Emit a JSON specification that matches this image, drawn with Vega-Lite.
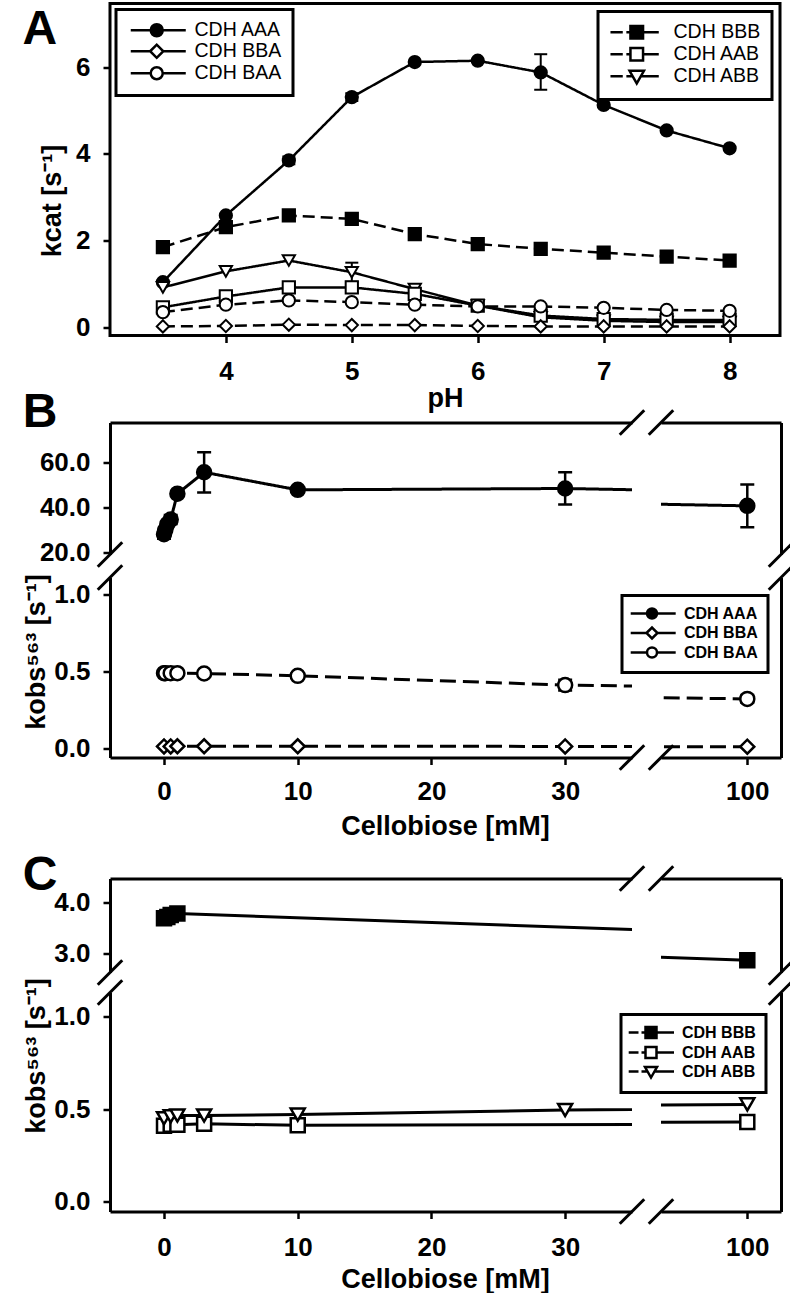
{
  "$schema": "https://vega.github.io/schema/vega-lite/v6.json",
  "padding": {"left": 21, "top": 1.5, "right": 0, "bottom": 0},
  "background": "white",
  "spacing": -25,
  "resolve": {"scale": {"x": "independent", "y": "independent", "shape": "independent", "fill": "independent", "stroke": "independent", "strokeDash": "independent"}, "legend": {"shape": "independent", "fill": "independent", "stroke": "independent", "strokeDash": "independent"}},
  "config": {
    "font": "Liberation Sans",
    "view": {"stroke": null},
    "axis": {"grid": false, "domainColor": "black", "domainWidth": 3, "tickColor": "black", "tickWidth": 2.5, "tickSize": 7, "labelFont": "Liberation Sans", "labelFontSize": 26, "labelFontWeight": "bold", "labelColor": "black", "labelPadding": 13, "labelFlush": false, "labelOverlap": false, "titleFont": "Liberation Sans", "titleFontSize": 27, "titleFontWeight": "bold", "titleColor": "black"},
    "legend": {"labelColor": "black", "labelFont": "Liberation Sans", "strokeColor": "black", "strokeWidth": 3, "fillColor": "white", "symbolStrokeWidth": 2.5, "rowPadding": 2, "labelLimit": 300},
    "title": {"font": "Liberation Sans", "fontSize": 48, "fontWeight": "bold", "anchor": "start", "frame": "bounds", "color": "black"}
  },
  "datasets": {
    "dA": [
      {"s": "CDH AAA", "pH": 3.5, "k": 1.04}, {"s": "CDH AAA", "pH": 4, "k": 2.58}, {"s": "CDH AAA", "pH": 4.5, "k": 3.85, "lo": 3.76, "hi": 3.94}, {"s": "CDH AAA", "pH": 5, "k": 5.31, "lo": 5.22, "hi": 5.4}, {"s": "CDH AAA", "pH": 5.5, "k": 6.12}, {"s": "CDH AAA", "pH": 6, "k": 6.15}, {"s": "CDH AAA", "pH": 6.5, "k": 5.88, "lo": 5.48, "hi": 6.3}, {"s": "CDH AAA", "pH": 7, "k": 5.13}, {"s": "CDH AAA", "pH": 7.5, "k": 4.54}, {"s": "CDH AAA", "pH": 8, "k": 4.13},
      {"s": "CDH BBB", "pH": 3.5, "k": 1.85}, {"s": "CDH BBB", "pH": 4, "k": 2.31}, {"s": "CDH BBB", "pH": 4.5, "k": 2.58}, {"s": "CDH BBB", "pH": 5, "k": 2.5}, {"s": "CDH BBB", "pH": 5.5, "k": 2.15}, {"s": "CDH BBB", "pH": 6, "k": 1.92}, {"s": "CDH BBB", "pH": 6.5, "k": 1.81}, {"s": "CDH BBB", "pH": 7, "k": 1.72}, {"s": "CDH BBB", "pH": 7.5, "k": 1.63}, {"s": "CDH BBB", "pH": 8, "k": 1.54},
      {"s": "CDH ABB", "pH": 3.5, "k": 0.92}, {"s": "CDH ABB", "pH": 4, "k": 1.29}, {"s": "CDH ABB", "pH": 4.5, "k": 1.54}, {"s": "CDH ABB", "pH": 5, "k": 1.27, "lo": 1.05, "hi": 1.49}, {"s": "CDH ABB", "pH": 5.5, "k": 0.88}, {"s": "CDH ABB", "pH": 6, "k": 0.5}, {"s": "CDH ABB", "pH": 6.5, "k": 0.23}, {"s": "CDH ABB", "pH": 7, "k": 0.15}, {"s": "CDH ABB", "pH": 7.5, "k": 0.12}, {"s": "CDH ABB", "pH": 8, "k": 0.12},
      {"s": "CDH AAB", "pH": 3.5, "k": 0.46}, {"s": "CDH AAB", "pH": 4, "k": 0.71}, {"s": "CDH AAB", "pH": 4.5, "k": 0.92}, {"s": "CDH AAB", "pH": 5, "k": 0.92}, {"s": "CDH AAB", "pH": 5.5, "k": 0.77}, {"s": "CDH AAB", "pH": 6, "k": 0.5}, {"s": "CDH AAB", "pH": 6.5, "k": 0.27}, {"s": "CDH AAB", "pH": 7, "k": 0.19}, {"s": "CDH AAB", "pH": 7.5, "k": 0.17}, {"s": "CDH AAB", "pH": 8, "k": 0.17},
      {"s": "CDH BAA", "pH": 3.5, "k": 0.35}, {"s": "CDH BAA", "pH": 4, "k": 0.52}, {"s": "CDH BAA", "pH": 4.5, "k": 0.62}, {"s": "CDH BAA", "pH": 5, "k": 0.58}, {"s": "CDH BAA", "pH": 5.5, "k": 0.52}, {"s": "CDH BAA", "pH": 6, "k": 0.48}, {"s": "CDH BAA", "pH": 6.5, "k": 0.48}, {"s": "CDH BAA", "pH": 7, "k": 0.45}, {"s": "CDH BAA", "pH": 7.5, "k": 0.4}, {"s": "CDH BAA", "pH": 8, "k": 0.38},
      {"s": "CDH BBA", "pH": 3.5, "k": 0.02}, {"s": "CDH BBA", "pH": 4, "k": 0.03}, {"s": "CDH BBA", "pH": 4.5, "k": 0.06}, {"s": "CDH BBA", "pH": 5, "k": 0.05}, {"s": "CDH BBA", "pH": 5.5, "k": 0.05}, {"s": "CDH BBA", "pH": 6, "k": 0.03}, {"s": "CDH BBA", "pH": 6.5, "k": 0.02}, {"s": "CDH BBA", "pH": 7, "k": 0.02}, {"s": "CDH BBA", "pH": 7.5, "k": 0.02}, {"s": "CDH BBA", "pH": 8, "k": 0.02}
    ],
    "dB": [
      {"s": "CDH AAA", "c": 0, "k": 28, "lo": 26, "hi": 30}, {"s": "CDH AAA", "c": 0.1, "k": 30}, {"s": "CDH AAA", "c": 0.25, "k": 32.5}, {"s": "CDH AAA", "c": 0.5, "k": 34.5, "lo": 32.5, "hi": 36.5}, {"s": "CDH AAA", "c": 1, "k": 46}, {"s": "CDH AAA", "c": 3, "k": 55.5, "lo": 46.5, "hi": 64.4}, {"s": "CDH AAA", "c": 10, "k": 47.7, "lo": 46.7, "hi": 48.7}, {"s": "CDH AAA", "c": 30, "k": 48.3, "lo": 41.2, "hi": 55.5}, {"s": "CDH AAA", "c": 100, "k": 40.6, "lo": 31.1, "hi": 50.1},
      {"s": "CDH BBA", "c": 0, "k": 0.012}, {"s": "CDH BBA", "c": 0.5, "k": 0.012}, {"s": "CDH BBA", "c": 1, "k": 0.013}, {"s": "CDH BBA", "c": 3, "k": 0.013}, {"s": "CDH BBA", "c": 10, "k": 0.013}, {"s": "CDH BBA", "c": 30, "k": 0.012}, {"s": "CDH BBA", "c": 100, "k": 0.01},
      {"s": "CDH BAA", "c": 0, "k": 0.487}, {"s": "CDH BAA", "c": 0.1, "k": 0.487}, {"s": "CDH BAA", "c": 0.5, "k": 0.487}, {"s": "CDH BAA", "c": 1, "k": 0.487}, {"s": "CDH BAA", "c": 3, "k": 0.485}, {"s": "CDH BAA", "c": 10, "k": 0.47, "lo": 0.455, "hi": 0.485}, {"s": "CDH BAA", "c": 30, "k": 0.41, "lo": 0.375, "hi": 0.445}, {"s": "CDH BAA", "c": 100, "k": 0.32, "lo": 0.295, "hi": 0.345}
    ],
    "dC": [
      {"s": "CDH BBB", "c": 0, "k": 3.7}, {"s": "CDH BBB", "c": 0.25, "k": 3.72}, {"s": "CDH BBB", "c": 0.5, "k": 3.76}, {"s": "CDH BBB", "c": 1, "k": 3.79}, {"s": "CDH BBB", "c": 100, "k": 2.87},
      {"s": "CDH AAB", "c": 0, "k": 0.41}, {"s": "CDH AAB", "c": 0.5, "k": 0.415}, {"s": "CDH AAB", "c": 1, "k": 0.415}, {"s": "CDH AAB", "c": 3, "k": 0.42}, {"s": "CDH AAB", "c": 10, "k": 0.412}, {"s": "CDH AAB", "c": 100, "k": 0.43},
      {"s": "CDH ABB", "c": 0, "k": 0.45}, {"s": "CDH ABB", "c": 0.5, "k": 0.46}, {"s": "CDH ABB", "c": 1, "k": 0.465}, {"s": "CDH ABB", "c": 3, "k": 0.465}, {"s": "CDH ABB", "c": 10, "k": 0.47}, {"s": "CDH ABB", "c": 30, "k": 0.495}, {"s": "CDH ABB", "c": 100, "k": 0.525}
    ],
    "brk": [
      {"p": "Btl", "x": 35, "y": 77.6}, {"p": "Btl", "x": -4.04, "y": 19},
      {"p": "Btr", "x": 93.6, "y": 77.6}, {"p": "Btr", "x": 102.5, "y": 19},
      {"p": "Bbl", "x": -4.04, "y": 1.108}, {"p": "Bbl", "x": 35, "y": -0.06},
      {"p": "Bbr", "x": 102.5, "y": 1.108}, {"p": "Bbr", "x": 93.6, "y": -0.06},
      {"p": "Ctl", "x": 35, "y": 4.48}, {"p": "Ctl", "x": -4.04, "y": 2.63},
      {"p": "Ctr", "x": 93.6, "y": 4.48}, {"p": "Ctr", "x": 102.5, "y": 2.63},
      {"p": "Cbl", "x": -4.04, "y": 1.13}, {"p": "Cbl", "x": 35, "y": -0.054},
      {"p": "Cbr", "x": 102.5, "y": 1.13}, {"p": "Cbr", "x": 93.6, "y": -0.054}
    ]
  },
  "vconcat": [
    {
      "width": 670, "height": 332,
      "title": {"text": "A", "offset": -50, "dx": -16},
      "view": {"stroke": "black", "strokeWidth": 3},
      "data": {"name": "dA"},
      "resolve": {"scale": {"shape": "independent", "fill": "independent", "stroke": "independent"}, "legend": {"shape": "independent", "fill": "independent", "stroke": "independent"}},
      "layer": [
        {"mark": {"type": "line", "strokeWidth": 2.5, "color": "black"},
         "encoding": {
           "x": {"field": "pH", "type": "quantitative", "scale": {"domain": [3.08, 8.4], "nice": false, "zero": false}, "axis": {"values": [4, 5, 6, 7, 8], "format": "d", "title": "pH", "titlePadding": 1, "labelPadding": 16, "domain": false}},
           "y": {"field": "k", "type": "quantitative", "scale": {"domain": [-0.19, 7.47], "nice": false, "zero": false}, "axis": {"values": [0, 2, 4, 6], "format": "d", "title": "kcat [s⁻¹]", "titlePadding": 9, "titleY": 197, "domain": false}},
           "strokeDash": {"field": "s", "type": "nominal", "scale": {"domain": ["CDH AAA", "CDH BBB", "CDH ABB", "CDH AAB", "CDH BAA", "CDH BBA"], "range": [[1, 0], [12, 6], [1, 0], [1, 0], [12, 6], [12, 6]]}, "legend": null}
         }},
        {"transform": [{"filter": "isValid(datum.lo)"}], "mark": {"type": "rule", "strokeWidth": 2, "color": "black"},
         "encoding": {"x": {"field": "pH", "type": "quantitative"}, "y": {"field": "lo", "type": "quantitative"}, "y2": {"field": "hi"}}},
        {"transform": [{"filter": "isValid(datum.lo)"}], "mark": {"type": "point", "shape": "stroke", "size": 169, "strokeWidth": 2, "color": "black", "opacity": 1},
         "encoding": {"x": {"field": "pH", "type": "quantitative"}, "y": {"field": "lo", "type": "quantitative"}}},
        {"transform": [{"filter": "isValid(datum.lo)"}], "mark": {"type": "point", "shape": "stroke", "size": 169, "strokeWidth": 2, "color": "black", "opacity": 1},
         "encoding": {"x": {"field": "pH", "type": "quantitative"}, "y": {"field": "hi", "type": "quantitative"}}},
        {"mark": {"type": "point", "filled": true, "size": 150, "stroke": "black", "strokeWidth": 2, "opacity": 1},
         "encoding": {
           "x": {"field": "pH", "type": "quantitative"},
           "y": {"field": "k", "type": "quantitative"},
           "shape": {"field": "s", "type": "nominal", "scale": {"domain": ["CDH AAA", "CDH BBB", "CDH ABB", "CDH AAB", "CDH BAA", "CDH BBA"], "range": ["circle", "square", "triangle-down", "square", "circle", "diamond"]}, "legend": null},
           "fill": {"field": "s", "type": "nominal", "scale": {"domain": ["CDH AAA", "CDH BBB", "CDH ABB", "CDH AAB", "CDH BAA", "CDH BBA"], "range": ["black", "black", "white", "white", "white", "white"]}, "legend": null}
         }},
        {"transform": [{"filter": "false"}], "mark": {"type": "point", "filled": true, "strokeWidth": 2.5, "opacity": 1},
         "encoding": {
           "x": {"field": "pH", "type": "quantitative"},
           "y": {"field": "k", "type": "quantitative"},
           "shape": {"field": "s", "type": "nominal", "scale": {"domain": ["CDH AAA", "CDH BBA", "CDH BAA"], "range": ["M-1,0L2.33,0M4.33,0L8.17,0M2.33,0A1,1,0,1,1,4.33,0A1,1,0,1,1,2.33,0Z", "M-1,0L2.23,0M4.43,0L8.17,0M2.23,0L3.33,-1.1L4.43,0L3.33,1.1Z", "M-1,0L2.33,0M4.33,0L8.17,0M2.33,0A1,1,0,1,1,4.33,0A1,1,0,1,1,2.33,0Z"]},
             "legend": {"orient": "top-left", "offset": 6, "title": null, "symbolSize": 144, "symbolStrokeWidth": 2.5, "labelFontSize": 19.5, "labelOffset": 48, "padding": 11, "rowPadding": -2}},
           "fill": {"field": "s", "type": "nominal", "scale": {"domain": ["CDH AAA", "CDH BBA", "CDH BAA"], "range": ["black", "white", "white"]},
             "legend": {"orient": "top-left", "offset": 6, "title": null, "symbolSize": 144, "symbolStrokeWidth": 2.5, "labelFontSize": 19.5, "labelOffset": 48, "padding": 11, "rowPadding": -2}},
           "stroke": {"field": "s", "type": "nominal", "scale": {"domain": ["CDH AAA", "CDH BBA", "CDH BAA"], "range": ["black", "black", "black"]},
             "legend": {"orient": "top-left", "offset": 6, "title": null, "symbolSize": 144, "symbolStrokeWidth": 2.5, "labelFontSize": 19.5, "labelOffset": 48, "padding": 11, "rowPadding": -2}}
         }},
        {"transform": [{"filter": "false"}], "mark": {"type": "point", "filled": true, "strokeWidth": 2.5, "opacity": 1},
         "encoding": {
           "x": {"field": "pH", "type": "quantitative"},
           "y": {"field": "k", "type": "quantitative"},
           "shape": {"field": "s", "type": "nominal", "scale": {"domain": ["CDH BBB", "CDH AAB", "CDH ABB"], "range": ["M-1.38,0L0.67,0M1.27,0L1.95,0M4.05,0L6.67,0M1.95,-1.05L4.05,-1.05L4.05,1.05L1.95,1.05Z", "M-1.38,0L0.67,0M1.27,0L1.95,0M4.05,0L6.67,0M1.95,-1.05L4.05,-1.05L4.05,1.05L1.95,1.05Z", "M-1.38,0L0.67,0M1.27,0L2.31,0M3.69,0L6.67,0M1.8,-0.9L4.2,-0.9L3,1.2Z"]},
             "legend": {"orient": "top-right", "offset": 8, "title": null, "symbolSize": 144, "symbolStrokeWidth": 2.5, "labelFontSize": 19.5, "labelOffset": 45, "padding": 11, "rowPadding": -2}},
           "fill": {"field": "s", "type": "nominal", "scale": {"domain": ["CDH BBB", "CDH AAB", "CDH ABB"], "range": ["black", "white", "white"]},
             "legend": {"orient": "top-right", "offset": 8, "title": null, "symbolSize": 144, "symbolStrokeWidth": 2.5, "labelFontSize": 19.5, "labelOffset": 45, "padding": 11, "rowPadding": -2}},
           "stroke": {"field": "s", "type": "nominal", "scale": {"domain": ["CDH BBB", "CDH AAB", "CDH ABB"], "range": ["black", "black", "black"]},
             "legend": {"orient": "top-right", "offset": 8, "title": null, "symbolSize": 144, "symbolStrokeWidth": 2.5, "labelFontSize": 19.5, "labelOffset": 45, "padding": 11, "rowPadding": -2}}
         }}
      ]
    },
    {
      "spacing": 12,
      "resolve": {"scale": {"x": "independent", "y": "independent", "shape": "independent", "fill": "independent", "stroke": "independent", "strokeDash": "independent"}, "legend": {"shape": "independent", "fill": "independent", "stroke": "independent", "strokeDash": "independent"}},
      "vconcat": [
        {
          "title": {"text": "B", "offset": -33},
          "spacing": -15,
          "resolve": {"scale": {"x": "independent", "y": "independent", "shape": "independent", "fill": "independent", "stroke": "independent", "strokeDash": "independent"}, "legend": {"shape": "independent", "fill": "independent", "stroke": "independent", "strokeDash": "independent"}},
          "vconcat": [
            {"bounds": "flush", "spacing": 29,
             "resolve": {"scale": {"x": "independent", "y": "independent", "shape": "independent", "fill": "independent", "stroke": "independent", "strokeDash": "independent"}, "legend": {"shape": "independent", "fill": "independent", "stroke": "independent", "strokeDash": "independent"}},
             "hconcat": [
              {"width": 522, "height": 132, "data": {"name": "dB"}, "layer": [
                {"mark": {"type": "line", "clip": true, "strokeWidth": 3, "color": "black"},
                 "encoding": {
                   "x": {"field": "c", "type": "quantitative", "scale": {"domain": [-4.04, 35], "nice": false, "zero": false}, "axis": {"orient": "top", "labels": false, "ticks": false, "title": null}},
                   "y": {"field": "k", "type": "quantitative", "scale": {"domain": [19, 77.6], "nice": false, "zero": false}, "axis": {"values": [20, 40, 60], "format": ".1f", "title": null}},
                   "strokeDash": {"field": "s", "type": "nominal", "scale": {"domain": ["CDH AAA", "CDH BBA", "CDH BAA"], "range": [[1, 0], [16, 7], [16, 7]]}, "legend": null}}},
                {"transform": [{"filter": "isValid(datum.lo)"}], "mark": {"type": "rule", "clip": true, "strokeWidth": 2.5, "color": "black"}, "encoding": {"x": {"field": "c", "type": "quantitative"}, "y": {"field": "lo", "type": "quantitative"}, "y2": {"field": "hi"}}},
                {"transform": [{"filter": "isValid(datum.lo)"}], "mark": {"type": "point", "shape": "stroke", "size": 196, "strokeWidth": 2.5, "color": "black", "clip": true, "opacity": 1}, "encoding": {"x": {"field": "c", "type": "quantitative"}, "y": {"field": "lo", "type": "quantitative"}}},
                {"transform": [{"filter": "isValid(datum.lo)"}], "mark": {"type": "point", "shape": "stroke", "size": 196, "strokeWidth": 2.5, "color": "black", "clip": true, "opacity": 1}, "encoding": {"x": {"field": "c", "type": "quantitative"}, "y": {"field": "hi", "type": "quantitative"}}},
                {"mark": {"type": "point", "filled": true, "size": 196, "stroke": "black", "strokeWidth": 2.5, "clip": true, "opacity": 1},
                 "encoding": {"x": {"field": "c", "type": "quantitative"}, "y": {"field": "k", "type": "quantitative"},
                   "shape": {"field": "s", "type": "nominal", "scale": {"domain": ["CDH AAA", "CDH BBA", "CDH BAA"], "range": ["circle", "diamond", "circle"]}, "legend": null},
                   "fill": {"field": "s", "type": "nominal", "scale": {"domain": ["CDH AAA", "CDH BBA", "CDH BAA"], "range": ["black", "white", "white"]}, "legend": null}}},
                {"data": {"name": "brk"}, "transform": [{"filter": "datum.p === 'Btl'"}], "mark": {"type": "point", "shape": "M-1,1L1,-1", "size": 600, "stroke": "black", "strokeWidth": 3, "filled": false, "clip": false, "opacity": 1},
                 "encoding": {"x": {"field": "x", "type": "quantitative"}, "y": {"field": "y", "type": "quantitative"}}}
              ]},
              {"width": 120, "height": 132, "data": {"name": "dB"}, "layer": [
                {"mark": {"type": "line", "clip": true, "strokeWidth": 3, "color": "black"},
                 "encoding": {
                   "x": {"field": "c", "type": "quantitative", "scale": {"domain": [93.6, 102.5], "nice": false, "zero": false}, "axis": {"orient": "top", "labels": false, "ticks": false, "title": null}},
                   "y": {"field": "k", "type": "quantitative", "scale": {"domain": [19, 77.6], "nice": false, "zero": false}, "axis": {"orient": "right", "labels": false, "ticks": false, "title": null}},
                   "strokeDash": {"field": "s", "type": "nominal", "scale": {"domain": ["CDH AAA", "CDH BBA", "CDH BAA"], "range": [[1, 0], [16, 7], [16, 7]]}, "legend": null}}},
                {"transform": [{"filter": "isValid(datum.lo)"}], "mark": {"type": "rule", "clip": true, "strokeWidth": 2.5, "color": "black"}, "encoding": {"x": {"field": "c", "type": "quantitative"}, "y": {"field": "lo", "type": "quantitative"}, "y2": {"field": "hi"}}},
                {"transform": [{"filter": "isValid(datum.lo)"}], "mark": {"type": "point", "shape": "stroke", "size": 196, "strokeWidth": 2.5, "color": "black", "clip": true, "opacity": 1}, "encoding": {"x": {"field": "c", "type": "quantitative"}, "y": {"field": "lo", "type": "quantitative"}}},
                {"transform": [{"filter": "isValid(datum.lo)"}], "mark": {"type": "point", "shape": "stroke", "size": 196, "strokeWidth": 2.5, "color": "black", "clip": true, "opacity": 1}, "encoding": {"x": {"field": "c", "type": "quantitative"}, "y": {"field": "hi", "type": "quantitative"}}},
                {"mark": {"type": "point", "filled": true, "size": 196, "stroke": "black", "strokeWidth": 2.5, "clip": true, "opacity": 1},
                 "encoding": {"x": {"field": "c", "type": "quantitative"}, "y": {"field": "k", "type": "quantitative"},
                   "shape": {"field": "s", "type": "nominal", "scale": {"domain": ["CDH AAA", "CDH BBA", "CDH BAA"], "range": ["circle", "diamond", "circle"]}, "legend": null},
                   "fill": {"field": "s", "type": "nominal", "scale": {"domain": ["CDH AAA", "CDH BBA", "CDH BAA"], "range": ["black", "white", "white"]}, "legend": null}}},
                {"data": {"name": "brk"}, "transform": [{"filter": "datum.p === 'Btr'"}], "mark": {"type": "point", "shape": "M-1,1L1,-1", "size": 600, "stroke": "black", "strokeWidth": 3, "filled": false, "clip": false, "opacity": 1},
                 "encoding": {"x": {"field": "x", "type": "quantitative"}, "y": {"field": "y", "type": "quantitative"}}}
              ]}
            ]},
            {"bounds": "flush", "spacing": 29,
             "resolve": {"scale": {"x": "independent", "y": "independent", "shape": "independent", "fill": "independent", "stroke": "independent", "strokeDash": "independent"}, "legend": {"shape": "independent", "fill": "independent", "stroke": "independent", "strokeDash": "independent"}},
             "hconcat": [
              {"width": 522, "height": 180, "data": {"name": "dB"}, "layer": [
                {"mark": {"type": "line", "clip": true, "strokeWidth": 3, "color": "black"},
                 "encoding": {
                   "x": {"field": "c", "type": "quantitative", "scale": {"domain": [-4.04, 35], "nice": false, "zero": false}, "axis": {"values": [0, 10, 20, 30], "format": "d", "title": "Cellobiose [mM]", "titleX": 335, "labelPadding": 14, "titlePadding": 9}},
                   "y": {"field": "k", "type": "quantitative", "scale": {"domain": [-0.06, 1.108], "nice": false, "zero": false}, "axis": {"values": [0, 0.5, 1], "format": ".1f", "title": "kobs⁵⁶³ [s⁻¹]", "titlePadding": 3, "titleY": 74}},
                   "strokeDash": {"field": "s", "type": "nominal", "scale": {"domain": ["CDH AAA", "CDH BBA", "CDH BAA"], "range": [[1, 0], [16, 7], [16, 7]]}, "legend": null}}},
                {"transform": [{"filter": "isValid(datum.lo)"}], "mark": {"type": "rule", "clip": true, "strokeWidth": 2.5, "color": "black"}, "encoding": {"x": {"field": "c", "type": "quantitative"}, "y": {"field": "lo", "type": "quantitative"}, "y2": {"field": "hi"}}},
                {"transform": [{"filter": "isValid(datum.lo)"}], "mark": {"type": "point", "shape": "stroke", "size": 196, "strokeWidth": 2.5, "color": "black", "clip": true, "opacity": 1}, "encoding": {"x": {"field": "c", "type": "quantitative"}, "y": {"field": "lo", "type": "quantitative"}}},
                {"transform": [{"filter": "isValid(datum.lo)"}], "mark": {"type": "point", "shape": "stroke", "size": 196, "strokeWidth": 2.5, "color": "black", "clip": true, "opacity": 1}, "encoding": {"x": {"field": "c", "type": "quantitative"}, "y": {"field": "hi", "type": "quantitative"}}},
                {"mark": {"type": "point", "filled": true, "size": 196, "stroke": "black", "strokeWidth": 2.5, "clip": true, "opacity": 1},
                 "encoding": {"x": {"field": "c", "type": "quantitative"}, "y": {"field": "k", "type": "quantitative"},
                   "shape": {"field": "s", "type": "nominal", "scale": {"domain": ["CDH AAA", "CDH BBA", "CDH BAA"], "range": ["circle", "diamond", "circle"]}, "legend": null},
                   "fill": {"field": "s", "type": "nominal", "scale": {"domain": ["CDH AAA", "CDH BBA", "CDH BAA"], "range": ["black", "white", "white"]}, "legend": null}}},
                {"data": {"name": "brk"}, "transform": [{"filter": "datum.p === 'Bbl'"}], "mark": {"type": "point", "shape": "M-1,1L1,-1", "size": 600, "stroke": "black", "strokeWidth": 3, "filled": false, "clip": false, "opacity": 1},
                 "encoding": {"x": {"field": "x", "type": "quantitative"}, "y": {"field": "y", "type": "quantitative"}}}
              ]},
              {"width": 120, "height": 180, "data": {"name": "dB"},
               "resolve": {"scale": {"shape": "independent", "fill": "independent", "stroke": "independent"}, "legend": {"shape": "independent", "fill": "independent", "stroke": "independent"}},
               "layer": [
                {"mark": {"type": "line", "clip": true, "strokeWidth": 3, "color": "black"},
                 "encoding": {
                   "x": {"field": "c", "type": "quantitative", "scale": {"domain": [93.6, 102.5], "nice": false, "zero": false}, "axis": {"values": [100], "format": "d", "title": null, "labelPadding": 14}},
                   "y": {"field": "k", "type": "quantitative", "scale": {"domain": [-0.06, 1.108], "nice": false, "zero": false}, "axis": {"orient": "right", "labels": false, "ticks": false, "title": null}},
                   "strokeDash": {"field": "s", "type": "nominal", "scale": {"domain": ["CDH AAA", "CDH BBA", "CDH BAA"], "range": [[1, 0], [16, 7], [16, 7]]}, "legend": null}}},
                {"transform": [{"filter": "isValid(datum.lo)"}], "mark": {"type": "rule", "clip": true, "strokeWidth": 2.5, "color": "black"}, "encoding": {"x": {"field": "c", "type": "quantitative"}, "y": {"field": "lo", "type": "quantitative"}, "y2": {"field": "hi"}}},
                {"transform": [{"filter": "isValid(datum.lo)"}], "mark": {"type": "point", "shape": "stroke", "size": 196, "strokeWidth": 2.5, "color": "black", "clip": true, "opacity": 1}, "encoding": {"x": {"field": "c", "type": "quantitative"}, "y": {"field": "lo", "type": "quantitative"}}},
                {"transform": [{"filter": "isValid(datum.lo)"}], "mark": {"type": "point", "shape": "stroke", "size": 196, "strokeWidth": 2.5, "color": "black", "clip": true, "opacity": 1}, "encoding": {"x": {"field": "c", "type": "quantitative"}, "y": {"field": "hi", "type": "quantitative"}}},
                {"mark": {"type": "point", "filled": true, "size": 196, "stroke": "black", "strokeWidth": 2.5, "clip": true, "opacity": 1},
                 "encoding": {"x": {"field": "c", "type": "quantitative"}, "y": {"field": "k", "type": "quantitative"},
                   "shape": {"field": "s", "type": "nominal", "scale": {"domain": ["CDH AAA", "CDH BBA", "CDH BAA"], "range": ["circle", "diamond", "circle"]}, "legend": null},
                   "fill": {"field": "s", "type": "nominal", "scale": {"domain": ["CDH AAA", "CDH BBA", "CDH BAA"], "range": ["black", "white", "white"]}, "legend": null}}},
                {"transform": [{"filter": "false"}], "mark": {"type": "point", "filled": true, "strokeWidth": 2.5, "opacity": 1},
                 "encoding": {"x": {"field": "c", "type": "quantitative"}, "y": {"field": "k", "type": "quantitative"},
                   "shape": {"field": "s", "type": "nominal", "scale": {"domain": ["CDH AAA", "CDH BBA", "CDH BAA"], "range": ["M-1.86,0L1.4,0M3.4,0L7.14,0M1.4,0A1,1,0,1,1,3.4,0A1,1,0,1,1,1.4,0Z", "M-1.86,0L1.3,0M3.5,0L7.14,0M1.3,0L2.4,-1.1L3.5,0L2.4,1.1Z", "M-1.86,0L1.4,0M3.4,0L7.14,0M1.4,0A1,1,0,1,1,3.4,0A1,1,0,1,1,1.4,0Z"]},
                     "legend": {"orient": "none", "legendX": -39, "legendY": 18, "title": null, "symbolSize": 100, "symbolStrokeWidth": 2.5, "labelFontSize": 16, "labelFontWeight": "bold", "labelOffset": 36, "padding": 10, "rowPadding": -1.5}},
                   "fill": {"field": "s", "type": "nominal", "scale": {"domain": ["CDH AAA", "CDH BBA", "CDH BAA"], "range": ["black", "white", "white"]},
                     "legend": {"orient": "none", "legendX": -39, "legendY": 18, "title": null, "symbolSize": 100, "symbolStrokeWidth": 2.5, "labelFontSize": 16, "labelFontWeight": "bold", "labelOffset": 36, "padding": 10, "rowPadding": -1.5}},
                   "stroke": {"field": "s", "type": "nominal", "scale": {"domain": ["CDH AAA", "CDH BBA", "CDH BAA"], "range": ["black", "black", "black"]},
                     "legend": {"orient": "none", "legendX": -39, "legendY": 18, "title": null, "symbolSize": 100, "symbolStrokeWidth": 2.5, "labelFontSize": 16, "labelFontWeight": "bold", "labelOffset": 36, "padding": 10, "rowPadding": -1.5}}}},
                {"data": {"name": "brk"}, "transform": [{"filter": "datum.p === 'Bbr'"}], "mark": {"type": "point", "shape": "M-1,1L1,-1", "size": 600, "stroke": "black", "strokeWidth": 3, "filled": false, "clip": false, "opacity": 1},
                 "encoding": {"x": {"field": "x", "type": "quantitative"}, "y": {"field": "y", "type": "quantitative"}}}
              ]}
            ]}
          ]
        },
        {
          "title": {"text": "C", "offset": -40},
          "spacing": -18,
          "resolve": {"scale": {"x": "independent", "y": "independent", "shape": "independent", "fill": "independent", "stroke": "independent"}, "legend": {"shape": "independent", "fill": "independent", "stroke": "independent"}},
          "vconcat": [
            {"bounds": "flush", "spacing": 29,
             "resolve": {"scale": {"x": "independent", "y": "independent", "shape": "independent", "fill": "independent", "stroke": "independent"}, "legend": {"shape": "independent", "fill": "independent", "stroke": "independent"}},
             "hconcat": [
              {"width": 522, "height": 94, "data": {"name": "dC"}, "layer": [
                {"mark": {"type": "line", "clip": true, "strokeWidth": 3, "color": "black"},
                 "encoding": {
                   "x": {"field": "c", "type": "quantitative", "scale": {"domain": [-4.04, 35], "nice": false, "zero": false}, "axis": {"orient": "top", "labels": false, "ticks": false, "title": null}},
                   "y": {"field": "k", "type": "quantitative", "scale": {"domain": [2.63, 4.48], "nice": false, "zero": false}, "axis": {"values": [3, 4], "format": ".1f", "title": null}},
                   "detail": {"field": "s", "type": "nominal"}}},
                {"mark": {"type": "point", "filled": true, "size": 196, "stroke": "black", "strokeWidth": 2.5, "clip": true, "opacity": 1},
                 "encoding": {"x": {"field": "c", "type": "quantitative"}, "y": {"field": "k", "type": "quantitative"},
                   "shape": {"field": "s", "type": "nominal", "scale": {"domain": ["CDH BBB", "CDH AAB", "CDH ABB"], "range": ["square", "square", "triangle-down"]}, "legend": null},
                   "fill": {"field": "s", "type": "nominal", "scale": {"domain": ["CDH BBB", "CDH AAB", "CDH ABB"], "range": ["black", "white", "white"]}, "legend": null}}},
                {"data": {"name": "brk"}, "transform": [{"filter": "datum.p === 'Ctl'"}], "mark": {"type": "point", "shape": "M-1,1L1,-1", "size": 600, "stroke": "black", "strokeWidth": 3, "filled": false, "clip": false, "opacity": 1},
                 "encoding": {"x": {"field": "x", "type": "quantitative"}, "y": {"field": "y", "type": "quantitative"}}}
              ]},
              {"width": 120, "height": 94, "data": {"name": "dC"}, "layer": [
                {"mark": {"type": "line", "clip": true, "strokeWidth": 3, "color": "black"},
                 "encoding": {
                   "x": {"field": "c", "type": "quantitative", "scale": {"domain": [93.6, 102.5], "nice": false, "zero": false}, "axis": {"orient": "top", "labels": false, "ticks": false, "title": null}},
                   "y": {"field": "k", "type": "quantitative", "scale": {"domain": [2.63, 4.48], "nice": false, "zero": false}, "axis": {"orient": "right", "labels": false, "ticks": false, "title": null}},
                   "detail": {"field": "s", "type": "nominal"}}},
                {"mark": {"type": "point", "filled": true, "size": 196, "stroke": "black", "strokeWidth": 2.5, "clip": true, "opacity": 1},
                 "encoding": {"x": {"field": "c", "type": "quantitative"}, "y": {"field": "k", "type": "quantitative"},
                   "shape": {"field": "s", "type": "nominal", "scale": {"domain": ["CDH BBB", "CDH AAB", "CDH ABB"], "range": ["square", "square", "triangle-down"]}, "legend": null},
                   "fill": {"field": "s", "type": "nominal", "scale": {"domain": ["CDH BBB", "CDH AAB", "CDH ABB"], "range": ["black", "white", "white"]}, "legend": null}}},
                {"data": {"name": "brk"}, "transform": [{"filter": "datum.p === 'Ctr'"}], "mark": {"type": "point", "shape": "M-1,1L1,-1", "size": 600, "stroke": "black", "strokeWidth": 3, "filled": false, "clip": false, "opacity": 1},
                 "encoding": {"x": {"field": "x", "type": "quantitative"}, "y": {"field": "y", "type": "quantitative"}}}
              ]}
            ]},
            {"bounds": "flush", "spacing": 29,
             "resolve": {"scale": {"x": "independent", "y": "independent", "shape": "independent", "fill": "independent", "stroke": "independent"}, "legend": {"shape": "independent", "fill": "independent", "stroke": "independent"}},
             "hconcat": [
              {"width": 522, "height": 219, "data": {"name": "dC"}, "layer": [
                {"mark": {"type": "line", "clip": true, "strokeWidth": 3, "color": "black"},
                 "encoding": {
                   "x": {"field": "c", "type": "quantitative", "scale": {"domain": [-4.04, 35], "nice": false, "zero": false}, "axis": {"values": [0, 10, 20, 30], "format": "d", "title": "Cellobiose [mM]", "titleX": 335, "labelPadding": 16, "titlePadding": 6}},
                   "y": {"field": "k", "type": "quantitative", "scale": {"domain": [-0.054, 1.13], "nice": false, "zero": false}, "axis": {"values": [0, 0.5, 1], "format": ".1f", "title": "kobs⁵⁶³ [s⁻¹]", "titlePadding": 3, "titleY": 63}},
                   "detail": {"field": "s", "type": "nominal"}}},
                {"mark": {"type": "point", "filled": true, "size": 196, "stroke": "black", "strokeWidth": 2.5, "clip": true, "opacity": 1},
                 "encoding": {"x": {"field": "c", "type": "quantitative"}, "y": {"field": "k", "type": "quantitative"},
                   "shape": {"field": "s", "type": "nominal", "scale": {"domain": ["CDH BBB", "CDH AAB", "CDH ABB"], "range": ["square", "square", "triangle-down"]}, "legend": null},
                   "fill": {"field": "s", "type": "nominal", "scale": {"domain": ["CDH BBB", "CDH AAB", "CDH ABB"], "range": ["black", "white", "white"]}, "legend": null}}},
                {"data": {"name": "brk"}, "transform": [{"filter": "datum.p === 'Cbl'"}], "mark": {"type": "point", "shape": "M-1,1L1,-1", "size": 600, "stroke": "black", "strokeWidth": 3, "filled": false, "clip": false, "opacity": 1},
                 "encoding": {"x": {"field": "x", "type": "quantitative"}, "y": {"field": "y", "type": "quantitative"}}}
              ]},
              {"width": 120, "height": 219, "data": {"name": "dC"},
               "resolve": {"scale": {"shape": "independent", "fill": "independent", "stroke": "independent"}, "legend": {"shape": "independent", "fill": "independent", "stroke": "independent"}},
               "layer": [
                {"mark": {"type": "line", "clip": true, "strokeWidth": 3, "color": "black"},
                 "encoding": {
                   "x": {"field": "c", "type": "quantitative", "scale": {"domain": [93.6, 102.5], "nice": false, "zero": false}, "axis": {"values": [100], "format": "d", "title": null, "labelPadding": 16}},
                   "y": {"field": "k", "type": "quantitative", "scale": {"domain": [-0.054, 1.13], "nice": false, "zero": false}, "axis": {"orient": "right", "labels": false, "ticks": false, "title": null}},
                   "detail": {"field": "s", "type": "nominal"}}},
                {"mark": {"type": "point", "filled": true, "size": 196, "stroke": "black", "strokeWidth": 2.5, "clip": true, "opacity": 1},
                 "encoding": {"x": {"field": "c", "type": "quantitative"}, "y": {"field": "k", "type": "quantitative"},
                   "shape": {"field": "s", "type": "nominal", "scale": {"domain": ["CDH BBB", "CDH AAB", "CDH ABB"], "range": ["square", "square", "triangle-down"]}, "legend": null},
                   "fill": {"field": "s", "type": "nominal", "scale": {"domain": ["CDH BBB", "CDH AAB", "CDH ABB"], "range": ["black", "white", "white"]}, "legend": null}}},
                {"transform": [{"filter": "false"}], "mark": {"type": "point", "filled": true, "strokeWidth": 2.5, "opacity": 1},
                 "encoding": {"x": {"field": "c", "type": "quantitative"}, "y": {"field": "k", "type": "quantitative"},
                   "shape": {"field": "s", "type": "nominal", "scale": {"domain": ["CDH BBB", "CDH AAB", "CDH ABB"], "range": ["M-2.06,0L-0.1,0M0.5,0L1.3,0M3.5,0L7,0M1.3,-1.1L3.5,-1.1L3.5,1.1L1.3,1.1Z", "M-2.06,0L-0.1,0M0.5,0L1.3,0M3.5,0L7,0M1.3,-1.1L3.5,-1.1L3.5,1.1L1.3,1.1Z", "M-2.06,0L-0.1,0M0.5,0L1.7,0M3.1,0L7,0M1.2,-0.9L3.6,-0.9L2.4,1.2Z"]},
                     "legend": {"orient": "none", "legendX": -40, "legendY": 22, "title": null, "symbolSize": 100, "symbolStrokeWidth": 2.5, "labelFontSize": 16, "labelFontWeight": "bold", "labelOffset": 35, "padding": 10, "rowPadding": -2}},
                   "fill": {"field": "s", "type": "nominal", "scale": {"domain": ["CDH BBB", "CDH AAB", "CDH ABB"], "range": ["black", "white", "white"]},
                     "legend": {"orient": "none", "legendX": -40, "legendY": 22, "title": null, "symbolSize": 100, "symbolStrokeWidth": 2.5, "labelFontSize": 16, "labelFontWeight": "bold", "labelOffset": 35, "padding": 10, "rowPadding": -2}},
                   "stroke": {"field": "s", "type": "nominal", "scale": {"domain": ["CDH BBB", "CDH AAB", "CDH ABB"], "range": ["black", "black", "black"]},
                     "legend": {"orient": "none", "legendX": -40, "legendY": 22, "title": null, "symbolSize": 100, "symbolStrokeWidth": 2.5, "labelFontSize": 16, "labelFontWeight": "bold", "labelOffset": 35, "padding": 10, "rowPadding": -2}}}},
                {"data": {"name": "brk"}, "transform": [{"filter": "datum.p === 'Cbr'"}], "mark": {"type": "point", "shape": "M-1,1L1,-1", "size": 600, "stroke": "black", "strokeWidth": 3, "filled": false, "clip": false, "opacity": 1},
                 "encoding": {"x": {"field": "x", "type": "quantitative"}, "y": {"field": "y", "type": "quantitative"}}}
              ]}
            ]}
          ]
        }
      ]
    }
  ]
}
